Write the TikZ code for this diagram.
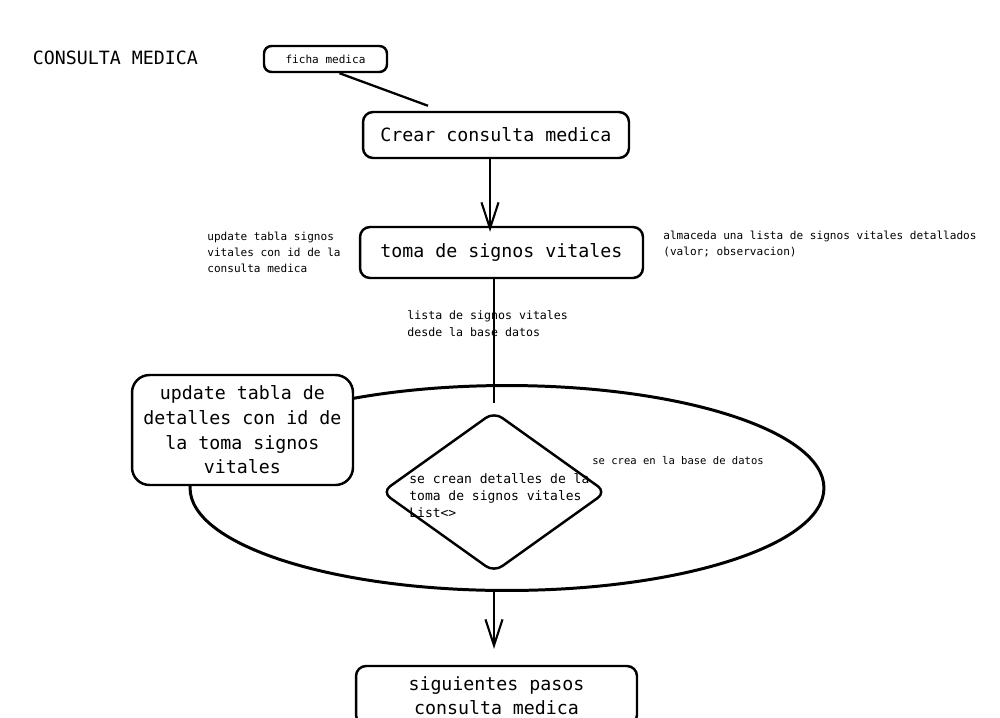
\documentclass[tikz,border=0pt]{standalone}
\usepackage{fontspec}
\setmainfont{DejaVu Sans Mono}
\usetikzlibrary{calc,arrows.meta,shapes.geometric}
\begin{document}
\begin{tikzpicture}[x=0.02cm,y=-0.02cm,
  box/.style={draw, line width=1.4pt, rounded corners=0.2cm, fill=white, inner sep=0pt, align=center, font=\fontsize{10.4}{14}\selectfont},
  note/.style={inner sep=0pt, align=left, anchor=west, font=\fontsize{6.3}{9.1}\selectfont},
  link/.style={line width=1.3pt},
  flow/.style={line width=1.2pt, -{Straight Barb[length=14.8pt, width=9.7pt]}}
]
\path[use as bounding box, clip] (0,0) rectangle (1000,717);

\node[inner sep=0pt, font=\fontsize{10.4}{12}\selectfont] (title) at (115.5,58) {CONSULTA MEDICA};
\node[box, minimum width=2.46cm, minimum height=0.52cm, rounded corners=0.15cm, font=\fontsize{6.3}{8}\selectfont] (ficha) at (325.5,59) {ficha medica};
\node[box, minimum width=5.32cm, minimum height=0.92cm] (crear) at (496,135) {Crear consulta medica};
\node[box, minimum width=5.66cm, minimum height=1.02cm] (toma) at (501.5,252.5) {toma de signos vitales};
\node[note] (upd1) at (207,252.5) {update tabla signos\\vitales con id de la\\consulta medica};
\node[note] (alm) at (663,244) {almaceda una lista de signos vitales detallados\\(valor; observacion)};
\node[note, font=\fontsize{6.6}{9.7}\selectfont] (lista) at (407,323.5) {lista de signos vitales\\desde la base datos};

\node[ellipse, draw, line width=1.7pt, minimum width=12.68cm, minimum height=4.1cm, inner sep=0pt] (ell) at (507,488) {};
\node[box, minimum width=4.42cm, minimum height=2.2cm, rounded corners=0.35cm] (upd2) at (242.5,430) {update tabla de\\detalles con id de\\la toma signos\\vitales};

\node[diamond, draw, line width=1.4pt, rounded corners=0.2cm, minimum width=4.5cm, minimum height=3.22cm, inner sep=0pt] (dia) at (494,492) {};
\node[note, font=\fontsize{7.4}{9.7}\selectfont] (dtext) at (409,496) {se crean detalles de la\\toma de signos vitales\\List<>};
\node[note, font=\fontsize{6.0}{8}\selectfont] (crea) at (592,461) {se crea en la base de datos};

\node[box, minimum width=5.62cm, minimum height=1.18cm] (sig) at (496.5,695.5) {siguientes pasos\\consulta medica};

\draw[link] ($(ficha.south)+(14,0)$) -- ($(crear.north)+(-68,-5)$);
\draw[flow] ($(crear.south)+(-6,0)$) -- ($(toma.north)+(-11.5,6)$);
\draw[link] (dia.north |- toma.south) -- ($(dia.north)+(0,-7)$);
\draw[flow] (dia.south |- ell.south) -- ($(dia.south |- sig.north)+(0,-16)$);
\end{tikzpicture}
\end{document}
